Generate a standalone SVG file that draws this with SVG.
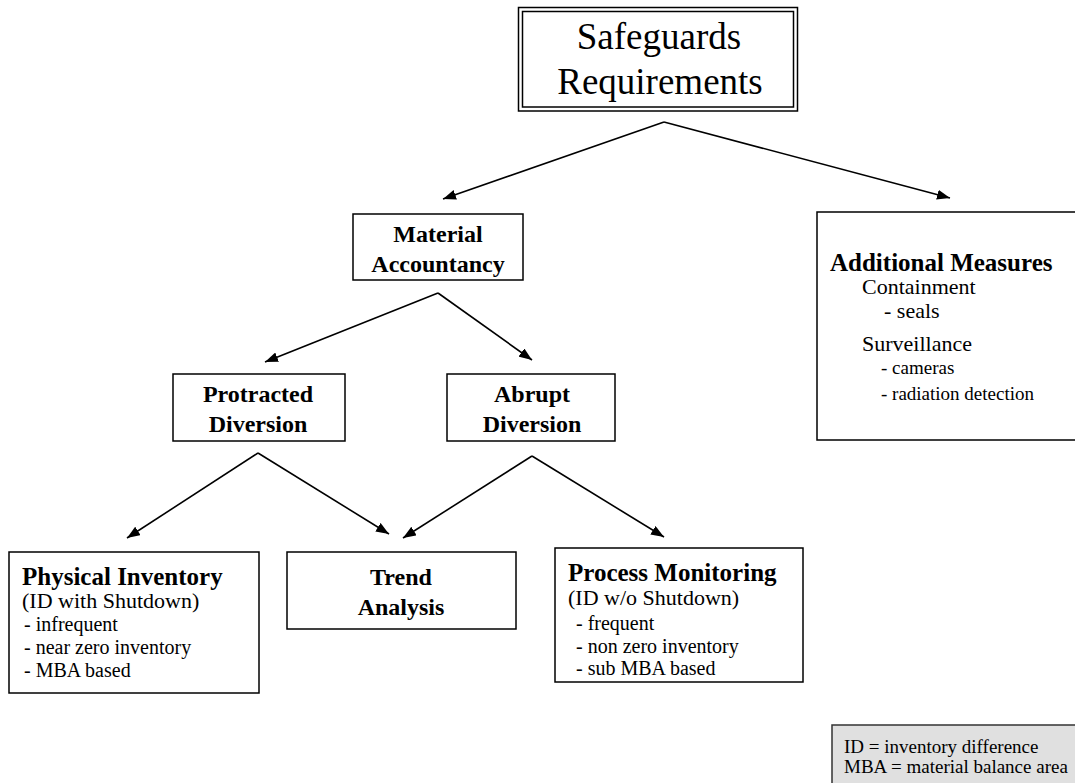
<svg xmlns="http://www.w3.org/2000/svg" width="1075" height="783" viewBox="0 0 1075 783">
<defs>
<marker id="ah" markerUnits="userSpaceOnUse" markerWidth="13" markerHeight="10" viewBox="0 0 13 10" refX="13" refY="5" orient="auto">
<path d="M0,0 L13,5 L0,10 z" fill="#000"/>
</marker>
<style>
.box{fill:#fff;stroke:#000;stroke-width:1.5}
.t{font-family:"Liberation Serif","Times New Roman",serif;fill:#000}
.b{font-weight:bold}
.c{text-anchor:middle}
.con{fill:none;stroke:#000;stroke-width:1.6;marker-end:url(#ah)}
</style>
</defs>
<rect width="1075" height="783" fill="#fff"/>
<g id="connectors">
<path class="con" d="M664,122 L443,199"/>
<path class="con" d="M664,122 L950,198"/>
<path class="con" d="M438,293 L265,362"/>
<path class="con" d="M438,293 L532,360"/>
<path class="con" d="M258,453 L127,538"/>
<path class="con" d="M258,453 L389,534"/>
<path class="con" d="M532,456 L403,538"/>
<path class="con" d="M532,456 L664,537"/>
</g>
<g id="safeguards">
<rect x="518.5" y="7.5" width="279" height="103.5" fill="#fff" stroke="#000" stroke-width="1.5"/>
<rect x="522.5" y="11.5" width="271" height="95.5" fill="none" stroke="#000" stroke-width="1.5"/>
<text class="t c" x="659" y="49" font-size="37">Safeguards</text>
<text class="t c" x="660" y="94" font-size="37">Requirements</text>
</g>
<g id="material">
<rect class="box" x="353" y="214" width="170" height="66"/>
<text class="t b c" x="438" y="242" font-size="24">Material</text>
<text class="t b c" x="438" y="272" font-size="24">Accountancy</text>
</g>
<g id="additional">
<rect class="box" x="817" y="212" width="270" height="228" stroke="#222"/>
<text class="t b" x="830" y="271" font-size="25">Additional Measures</text>
<text class="t" x="862" y="294" font-size="22">Containment</text>
<text class="t" x="884" y="318" font-size="22">- seals</text>
<text class="t" x="862" y="351" font-size="22">Surveillance</text>
<text class="t" x="881" y="374" font-size="19">- cameras</text>
<text class="t" x="881" y="400" font-size="19">- radiation detection</text>
</g>
<g id="protracted">
<rect class="box" x="173" y="374" width="172" height="67"/>
<text class="t b c" x="258" y="402" font-size="24">Protracted</text>
<text class="t b c" x="258" y="432" font-size="24">Diversion</text>
</g>
<g id="abrupt">
<rect class="box" x="447" y="374" width="168" height="67"/>
<text class="t b c" x="532" y="402" font-size="24">Abrupt</text>
<text class="t b c" x="532" y="432" font-size="24">Diversion</text>
</g>
<g id="physical">
<rect class="box" x="9" y="552" width="250" height="141"/>
<text class="t b" x="22" y="585" font-size="25">Physical Inventory</text>
<text class="t" x="22" y="608" font-size="22">(ID with Shutdown)</text>
<text class="t" x="24" y="631" font-size="20">- infrequent</text>
<text class="t" x="24" y="654" font-size="20">- near zero inventory</text>
<text class="t" x="24" y="677" font-size="20">- MBA based</text>
</g>
<g id="trend">
<rect class="box" x="287" y="552" width="229" height="77"/>
<text class="t b c" x="401" y="585" font-size="24">Trend</text>
<text class="t b c" x="401" y="615" font-size="24">Analysis</text>
</g>
<g id="process">
<rect class="box" x="555" y="548" width="248" height="134"/>
<text class="t b" x="568" y="581" font-size="25">Process Monitoring</text>
<text class="t" x="568" y="605" font-size="22">(ID w/o Shutdown)</text>
<text class="t" x="576" y="630" font-size="20">- frequent</text>
<text class="t" x="576" y="653" font-size="20">- non zero inventory</text>
<text class="t" x="576" y="675" font-size="20">- sub MBA based</text>
</g>
<g id="legend">
<rect x="832" y="725" width="250" height="70" fill="#e0e0e0" stroke="#333" stroke-width="1.5"/>
<text class="t" x="844" y="753" font-size="19">ID = inventory difference</text>
<text class="t" x="844" y="773" font-size="19">MBA = material balance area</text>
</g>
</svg>
